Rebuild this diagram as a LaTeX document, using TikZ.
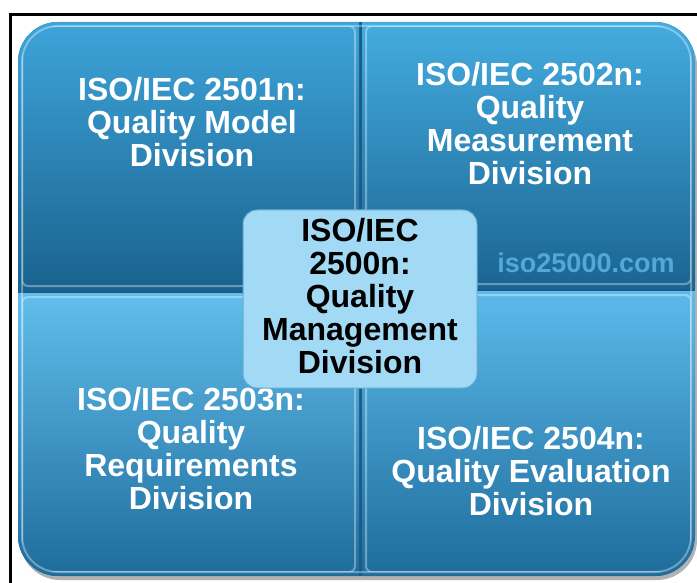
\documentclass[tikz,border=0pt]{standalone}
\usepackage{fontspec}
\setmainfont{Liberation Sans}
\definecolor{sepblue}{RGB}{24,92,135}
\definecolor{tltop}{RGB}{62,164,218}
\definecolor{tlbot}{RGB}{26,98,142}
\definecolor{trtop}{RGB}{68,172,224}
\definecolor{trbot}{RGB}{27,100,145}
\definecolor{bltop}{RGB}{98,190,236}
\definecolor{blbot}{RGB}{29,108,156}
\definecolor{brtop}{RGB}{92,186,234}
\definecolor{brbot}{RGB}{29,108,156}
\definecolor{mgmtfill}{RGB}{162,218,245}
\definecolor{mgmtline}{RGB}{100,170,212}
\definecolor{wmark}{RGB}{82,168,218}
\begin{document}
\begin{tikzpicture}[x=1pt,y=-1pt,
  quadtext/.style={text=white,font=\bfseries\fontsize{32}{33}\selectfont,align=center,inner sep=0pt},
  centertext/.style={text=black,font=\bfseries\fontsize{32}{33}\selectfont,align=center},
  highlight/.style={draw=white,draw opacity=0.35,line width=2pt}]
\useasboundingbox (0,0) rectangle (697,583);
\fill[white] (0,0) rectangle (697,583);
% outer frame
\draw[line width=3.5pt] (10.5,583) -- (10.5,14.5) -- (697,14.5);
% drop shadow
\fill[black,opacity=0.3,rounded corners=40pt] (20,26) rectangle (697,580);
% quadrants
\begin{scope}
  \clip[rounded corners=40pt] (18,22) rectangle (695,576);
  \fill[sepblue] (18,22) rectangle (695,576);
  \shade[top color=tltop,bottom color=tlbot] (18,22) rectangle (359,290);
  \shade[top color=trtop,bottom color=trbot] (362,22) rectangle (695,288);
  \shade[top color=bltop,bottom color=blbot] (18,293) rectangle (359,576);
  \shade[top color=brtop,bottom color=brbot] (362,291) rectangle (695,576);
\end{scope}
\begin{scope}
  \clip[rounded corners=36pt] (22,26) rectangle (691,572);
  \draw[highlight,rounded corners=6pt] (22,26) rectangle (355,286);
  \draw[highlight,rounded corners=6pt] (366,26) rectangle (691,284);
  \draw[highlight,rounded corners=6pt] (22,297) rectangle (355,572);
  \draw[highlight,rounded corners=6pt] (366,295) rectangle (691,572);
\end{scope}
\draw[highlight,rounded corners=36pt] (22,26) rectangle (691,572);
% texts
\node[quadtext] (q1) at (192,122) {ISO/IEC 2501n:\\Quality Model\\Division};
\node[quadtext] (q2) at (530,124) {ISO/IEC 2502n:\\Quality\\Measurement\\Division};
\node[quadtext] (q3) at (191,449) {ISO/IEC 2503n:\\Quality\\Requirements\\Division};
\node[quadtext] (q4) at (531,471) {ISO/IEC 2504n:\\Quality Evaluation\\Division};
\node[text=wmark,font=\bfseries\fontsize{27}{30}\selectfont,inner sep=0pt] (wm) at (586,263) {iso25000.com};
% center box
\node[centertext,draw=mgmtline,line width=1pt,fill=mgmtfill,rounded corners=14pt,
      minimum width=234pt,minimum height=178pt,text depth=6pt] (mgmt) at (360,299)
      {ISO/IEC\\2500n:\\Quality\\Management\\Division};
\end{tikzpicture}
\end{document}
